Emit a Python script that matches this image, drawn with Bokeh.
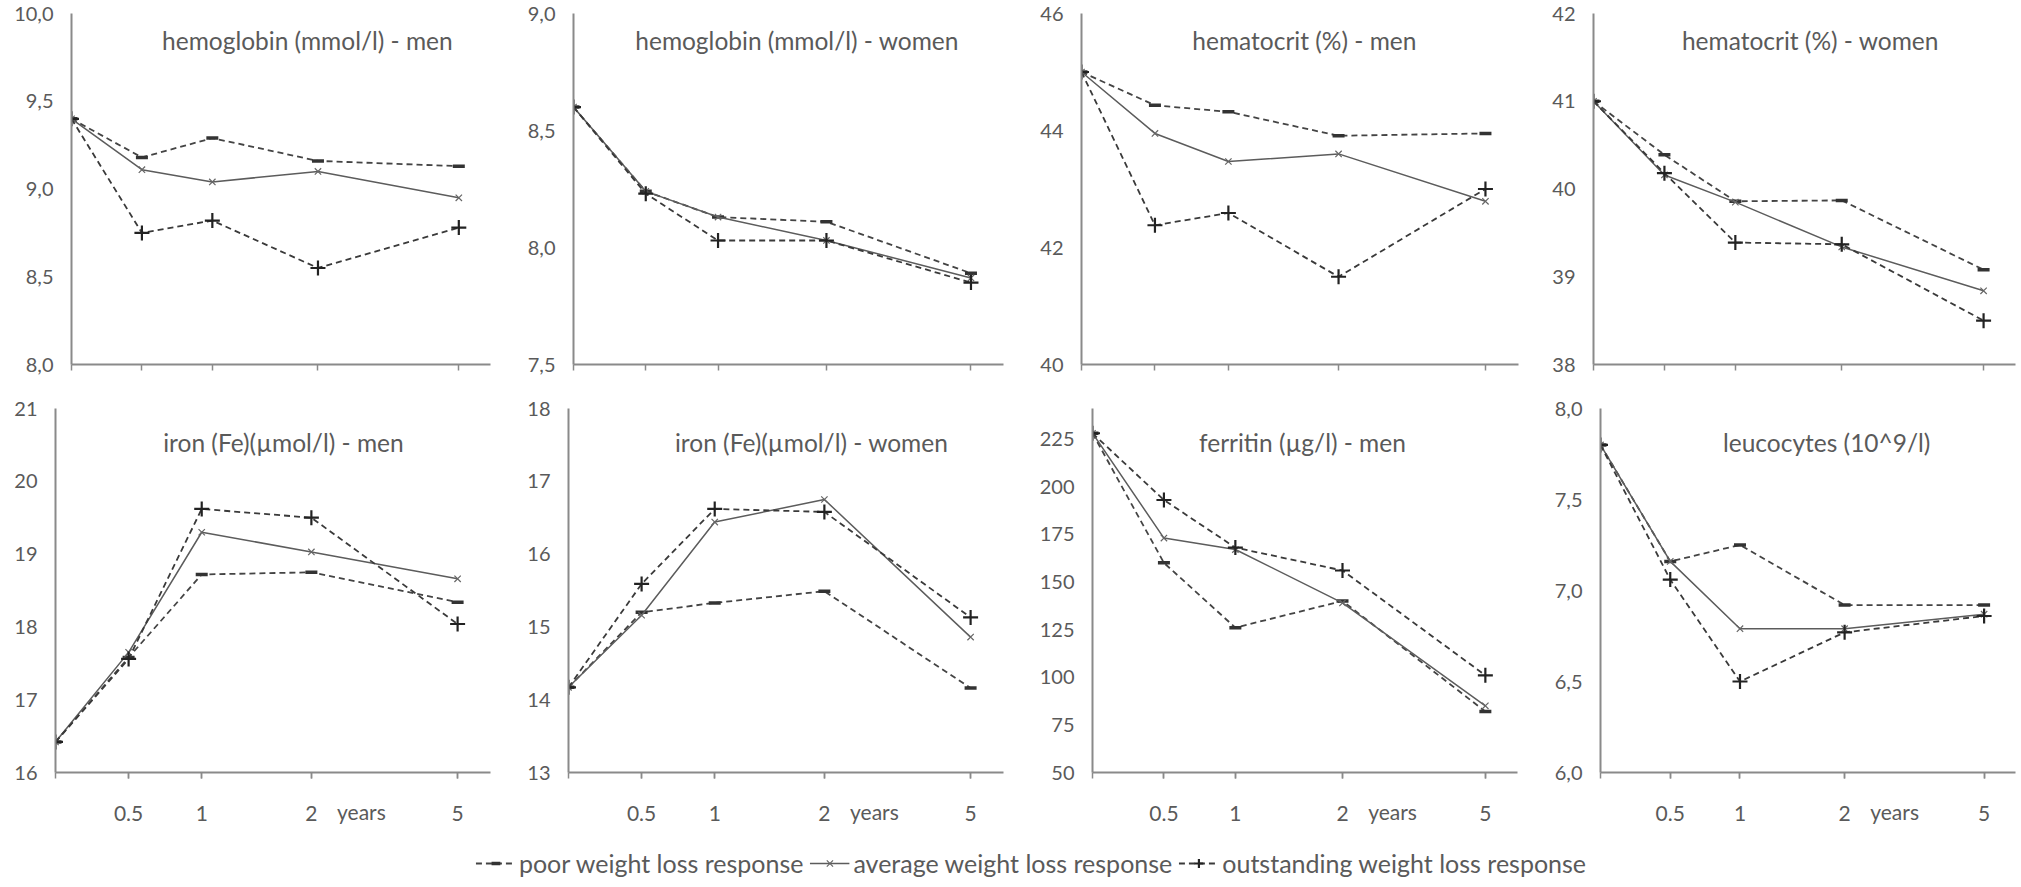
from bokeh.plotting import figure
from bokeh.models import FixedTicker, Label, Legend, LegendItem, Range1d, LinearAxis
from bokeh.layouts import column, row
from bokeh.embed import file_html
from bokeh.resources import INLINE

# ---------------- data ----------------
x_pos = [0, 1, 2, 3.5, 5.5]           # baseline, 0.5, 1, 2, 5 years (axis spacing)
x_tick_labels = ["0.5", "1", "2", "5"]  # labels of the ticks after baseline
x_unit = "years"

titles = [
    "hemoglobin (mmol/l) - men", "hemoglobin (mmol/l) - women",
    "hematocrit (%) - men", "hematocrit (%) - women",
    "iron (Fe)(\u00b5mol/l) - men", "iron (Fe)(\u00b5mol/l) - women",
    "ferritin (\u00b5g/l) - men", "leucocytes (10^9/l)",
]

hb_men_poor = [9.40, 9.18, 9.29, 9.16, 9.13]
hb_men_avg = [9.40, 9.11, 9.04, 9.10, 8.95]
hb_men_out = [9.40, 8.75, 8.82, 8.55, 8.78]

hb_women_poor = [8.60, 8.24, 8.13, 8.11, 7.89]
hb_women_avg = [8.60, 8.24, 8.13, 8.03, 7.87]
hb_women_out = [8.60, 8.23, 8.03, 8.03, 7.85]

hct_men_poor = [45.0, 44.43, 44.32, 43.91, 43.95]
hct_men_avg = [45.0, 43.95, 43.47, 43.60, 42.79]
hct_men_out = [45.0, 42.38, 42.59, 41.50, 43.00]

hct_women_poor = [41.0, 40.39, 39.86, 39.87, 39.08]
hct_women_avg = [41.0, 40.16, 39.85, 39.34, 38.84]
hct_women_out = [41.0, 40.18, 39.39, 39.37, 38.50]

fe_men_poor = [16.42, 17.58, 18.72, 18.75, 18.34]
fe_men_avg = [16.42, 17.65, 19.30, 19.03, 18.66]
fe_men_out = [16.42, 17.56, 19.62, 19.50, 18.04]

fe_women_poor = [14.17, 15.20, 15.33, 15.49, 14.16]
fe_women_avg = [14.17, 15.16, 16.44, 16.75, 14.86]
fe_women_out = [14.17, 15.59, 16.62, 16.58, 15.13]

ferr_men_poor = [228, 160, 126, 140, 82]
ferr_men_avg = [228, 173, 167, 139, 85]
ferr_men_out = [228, 193, 168, 156, 101]

leuco_poor = [7.80, 7.16, 7.25, 6.92, 6.92]
leuco_avg = [7.80, 7.16, 6.79, 6.79, 6.87]
leuco_out = [7.80, 7.06, 6.50, 6.77, 6.86]

series = [
    (hb_men_poor, hb_men_avg, hb_men_out),
    (hb_women_poor, hb_women_avg, hb_women_out),
    (hct_men_poor, hct_men_avg, hct_men_out),
    (hct_women_poor, hct_women_avg, hct_women_out),
    (fe_men_poor, fe_men_avg, fe_men_out),
    (fe_women_poor, fe_women_avg, fe_women_out),
    (ferr_men_poor, ferr_men_avg, ferr_men_out),
    (leuco_poor, leuco_avg, leuco_out),
]

# y axis: (start, end, first tick, last tick, step, decimals)
y_axes = [
    (8.0, 10.0, 8.0, 10.0, 0.5, 1),
    (7.5, 9.0, 7.5, 9.0, 0.5, 1),
    (40, 46, 40, 46, 2, 0),
    (38, 42, 38, 42, 1, 0),
    (16, 21, 16, 21, 1, 0),
    (13, 18, 13, 18, 1, 0),
    (50, 241, 50, 225, 25, 0),
    (6.0, 8.0, 6.0, 8.0, 0.5, 1),
]

legend_labels = ["poor weight loss response", "average weight loss response",
                 "outstanding weight loss response"]

# ---------------- styling / layout ----------------
FONT = "Lato"
TXT = "#5a5a5a"
AX = "#8a8a8a"
X_END = 5.95

# (width, left border, right border)
row1_geom = [(500, 71, 10), (510, 73, 7), (515, 71, 7), (496, 68, 6)]
row2_geom = [(500, 55, 10), (510, 68, 7), (515, 82, 8), (496, 75, 6)]
title_frac = [0.563, 0.52, 0.51, 0.514, 0.524, 0.559, 0.494, 0.545]
YEARS_SHIFT_PX = 50

line_styles = [
    dict(line_color="#444444", line_width=1.8, line_dash="6 4"),
    dict(line_color="#5c5c5c", line_width=1.5, line_dash="solid"),
    dict(line_color="#3a3a3a", line_width=1.8, line_dash="6 4"),
]
marker_styles = [
    dict(marker="dash", size=12, line_width=3.5, line_color="#333333"),
    dict(marker="x", size=9, line_width=1.2, line_color="#666666"),
    dict(marker="cross", size=15, line_width=2.2, line_color="#222222"),
]


def make_panel(i, geom, bottom_row):
    w, bl, br = geom
    y0, y1, t0, t1, step, dec = y_axes[i]
    if bottom_row:
        h, bt, bb, title_off = 448, 12, 72, -34
    else:
        h, bt, bb, title_off = 396, 13, 32, -27
    p = figure(width=w, height=h, output_backend="svg", toolbar_location=None,
               x_range=Range1d(0, X_END), y_range=Range1d(y0, y1),
               min_border_left=bl, min_border_right=br,
               min_border_top=bt, min_border_bottom=bb)
    p.outline_line_color = None
    p.xgrid.visible = False
    p.ygrid.visible = False
    p.background_fill_color = "white"
    p.border_fill_color = "white"

    # y axis
    n = int(round((t1 - t0) / step))
    ticks = [t0 + k * step for k in range(n + 1)]
    yax = p.yaxis[0]
    yax.ticker = FixedTicker(ticks=ticks)
    yax.major_label_overrides = {
        t: (f"{t:.{dec}f}".replace(".", ",")) for t in ticks
    }
    yax.axis_line_color = AX
    yax.axis_line_width = 2
    yax.major_tick_out = 0
    yax.major_tick_in = 0
    yax.minor_tick_out = 0
    yax.minor_tick_in = 0
    yax.major_label_standoff = 18
    yax.major_label_text_font = FONT
    yax.major_label_text_font_size = "20px"
    yax.major_label_text_color = TXT

    # x axis
    xax = p.xaxis[0]
    xax.axis_line_color = AX
    xax.axis_line_width = 2
    xax.major_tick_line_color = AX
    xax.major_tick_line_width = 1.5
    xax.minor_tick_line_color = AX
    xax.minor_tick_line_width = 1.5
    xax.major_tick_in = 0
    xax.minor_tick_in = 0
    xax.minor_tick_out = 6
    if bottom_row:
        xax.ticker = FixedTicker(ticks=x_pos[1:], minor_ticks=x_pos)
        xax.major_tick_out = 6
        xax.major_label_overrides = {x: lab for x, lab in zip(x_pos[1:], x_tick_labels)}
        xax.major_label_standoff = 27
        xax.major_label_text_font = FONT
        xax.major_label_text_font_size = "21px"
        xax.major_label_text_color = TXT
        # the "years" word written after the "2" tick label
        frame_w = w - bl - br
        d = YEARS_SHIFT_PX * X_END / frame_w
        p.extra_x_ranges = {"yrs": Range1d(-d, X_END - d)}
        ax2 = LinearAxis(x_range_name="yrs",
                         ticker=FixedTicker(ticks=[x_pos[3]]),
                         major_label_overrides={x_pos[3]: x_unit},
                         axis_line_color=None, major_tick_out=0, major_tick_in=0,
                         minor_tick_out=0, minor_tick_in=0,
                         major_label_standoff=-25,
                         major_label_text_font=FONT,
                         major_label_text_font_size="21px",
                         major_label_text_color=TXT)
        p.add_layout(ax2, "below")
    else:
        xax.ticker = FixedTicker(ticks=[], minor_ticks=x_pos)
        xax.major_tick_out = 0
        xax.major_label_standoff = 0

    for vals, ls, ms in zip(series[i], line_styles, marker_styles):
        p.line(x_pos, vals, **ls)
        p.scatter(x_pos, vals, **ms)

    p.add_layout(Label(x=title_frac[i] * X_END, y=y1, y_offset=title_off,
                       text=titles[i], text_font=FONT, text_font_size="24.5px",
                       text_color=TXT, text_align="center",
                       text_baseline="middle"))
    return p


row1 = [make_panel(i, row1_geom[i], False) for i in range(4)]
row2 = [make_panel(i + 4, row2_geom[i], True) for i in range(4)]

# legend strip
lg = figure(width=2021, height=38, output_backend="svg", toolbar_location=None,
            x_range=Range1d(0, 1), y_range=Range1d(0, 1),
            min_border_left=40, min_border_right=0, min_border_top=0,
            min_border_bottom=0)
lg.axis.visible = False
lg.xgrid.visible = False
lg.ygrid.visible = False
lg.outline_line_color = None
items = []
for lab, ls, ms in zip(legend_labels, line_styles, marker_styles):
    r1 = lg.line([-5, -4], [-5, -5], **ls)
    r2 = lg.scatter([-5], [-5], **ms)
    items.append(LegendItem(label=lab, renderers=[r1, r2]))
legend = Legend(items=items, orientation="horizontal", location="center",
                label_text_font=FONT, label_text_font_size="25px",
                label_text_color=TXT, glyph_width=40, glyph_height=22,
                label_standoff=4, spacing=6, padding=0, margin=0,
                border_line_color=None, background_fill_alpha=0)
lg.add_layout(legend, "center")

layout = column(row(*row1), row(*row2), lg)
open("out.html", "w").write(file_html(layout, INLINE))
